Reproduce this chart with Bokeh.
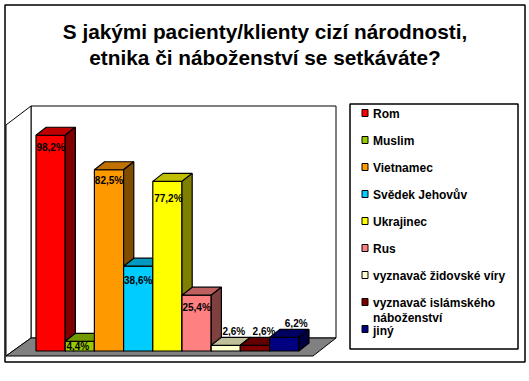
from bokeh.plotting import figure
from bokeh.models import Range1d, ColumnDataSource
from bokeh.core.properties import value
from bokeh.embed import file_html
from bokeh.resources import INLINE

title_lines = ["S jakými pacienty/klienty cizí národnosti,", "etnika či náboženství se setkáváte?"]
categories = ["Rom", "Muslim", "Vietnamec", "Svědek Jehovův", "Ukrajinec", "Rus",
              "vyznavač židovské víry", "vyznavač islámského\nnáboženství", "jiný"]
values = [98.2, 4.4, 82.5, 38.6, 77.2, 25.4, 2.6, 2.6, 6.2]
labels = ["98,2%", "4,4%", "82,5%", "38,6%", "77,2%", "25,4%", "2,6%", "2,6%", "6,2%"]
colors = ["#FF0000", "#99CC00", "#FF9900", "#00CCFF", "#FFFF00", "#FF8080", "#FFFFCC", "#800000", "#000080"]

W, H = 529, 373
X0, SLOT = 35.5, 29.2        # pixel of slot 0, pixels per slot
Y0, K = 350.5, 2.197         # pixel of 0 %, pixels per percent
DX, DY = 10.2, 8.0           # depth of the 3D effect

def px(x):
    return (x - X0) / SLOT
def py(y):
    return (Y0 - y) / K

p = figure(width=W, height=H, output_backend="svg", toolbar_location=None,
           x_range=Range1d(px(0), px(W)), y_range=Range1d(py(H), py(0)),
           min_border=0, outline_line_color=None, background_fill_color="white")
p.axis.visible = False
p.grid.visible = False

def poly(points, fill, line="black", width=1):
    p.patch([px(a) for a, _ in points], [py(b) for _, b in points],
            fill_color=fill, line_color=line, line_width=width)

def shade(c, f):
    r, g, b = (int(c[i:i + 2], 16) for i in (1, 3, 5))
    return "#%02X%02X%02X" % (int(r * f), int(g * f), int(b * f))

# chart frame
poly([(4.5, 4.5), (524.5, 4.5), (524.5, 361.5), (4.5, 361.5)], "white", width=1.5)
# walls and floor
poly([(30.5, 105.5), (335.5, 105.5), (335.5, 337.5), (30.5, 337.5)], "white")
poly([(5.5, 124.5), (30.5, 105.5), (30.5, 337.5), (5.5, 355.5)], "white")
poly([(5.5, 355.5), (30.5, 337.5), (335.5, 337.5), (312.5, 355.5)], "#808080")

# bars, left to right so that each covers the side of the previous one
xs, ys, fills = [], [], []
for i, v in enumerate(values):
    x1, x2 = i, i + 1
    ddx, ddy = DX / SLOT, DY / K
    c = colors[i]
    faces = [
        ([x1, x2, x2, x1], [0, 0, v, v], c),
        ([x1, x2, x2 + ddx, x1 + ddx], [v, v, v + ddy, v + ddy], shade(c, 0.75)),
        ([x2, x2 + ddx, x2 + ddx, x2], [0, ddy, v + ddy, v], shade(c, 0.5)),
    ]
    for fx, fy, fc in faces:
        xs.append(fx); ys.append(fy); fills.append(fc)
p.patches(xs="xs", ys="ys", fill_color="fills", line_color="black", line_width=1.2,
          source=ColumnDataSource(dict(xs=xs, ys=ys, fills=fills)))

# data labels (pixel nudges relative to the bar's centre and top)
nudge_x = [0, -2, 0, 0, 1, 0, 8, 9, 12]
nudge_y = [12, 5, 11, 14, 17, 12, -14, -14, -14]
p.text(x=[i + 0.5 + nudge_x[i] / SLOT for i in range(len(values))],
       y=[v - nudge_y[i] / K for i, v in enumerate(values)],
       text=labels, text_font=value("Liberation Sans"), text_font_style="bold", text_font_size="10px",
       text_color="black", text_align="center", text_baseline="middle")

# title
p.text(x=[px(264.5)] * 2, y=[py(31), py(57)], text=title_lines,
       text_font=value("Liberation Sans"), text_font_style="bold", text_font_size="20.8px",
       text_color="black", text_align="center", text_baseline="middle")

# legend
poly([(349.5, 103.5), (517.5, 103.5), (517.5, 348.5), (349.5, 348.5)], "white", width=1.5)
for i, (name, c) in enumerate(zip(categories, colors)):
    cy = 112.5 + i * 27
    poly([(361.5, cy - 3.5), (367.5, cy - 3.5), (367.5, cy + 3.5), (361.5, cy + 3.5)], c)
    for j, line in enumerate(name.split("\n")):
        p.text(x=[px(372.5)], y=[py(cy + 0.5 + j * 15.5 + (1.5 if i == 8 else 0))], text=[line],
               text_font=value("Liberation Sans"), text_font_style="bold", text_font_size="12px",
               text_color="black", text_align="left", text_baseline="middle")

open("out.html", "w").write(file_html(p, INLINE))
